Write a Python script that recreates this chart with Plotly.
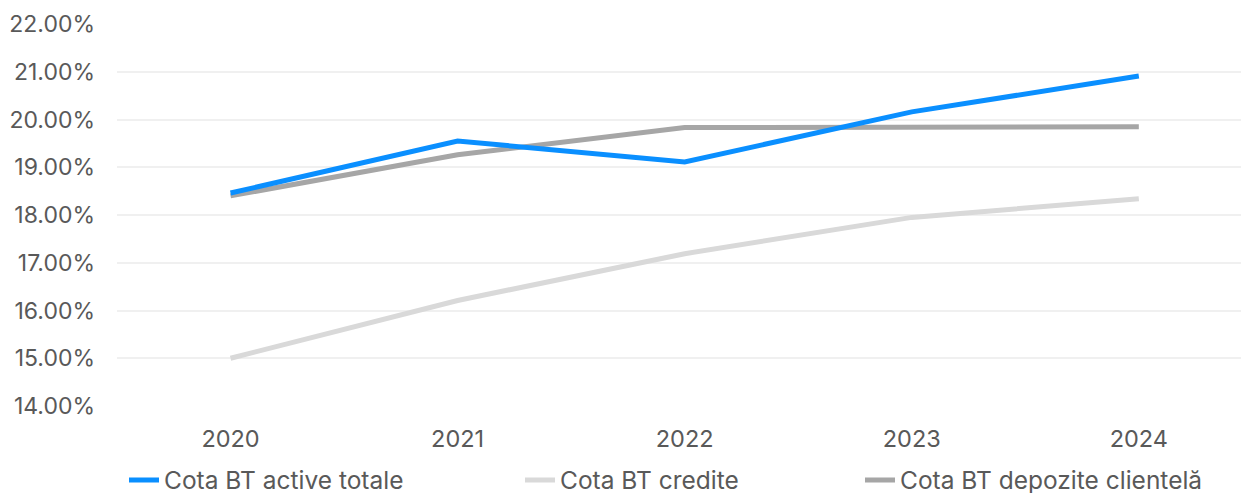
import plotly.graph_objects as go

years = ["2020", "2021", "2022", "2023", "2024"]
active_totale = [18.46, 19.55, 19.11, 20.16, 20.91]
credite = [15.00, 16.21, 17.19, 17.95, 18.34]
depozite = [18.40, 19.26, 19.83, 19.84, 19.85]

names = ["Cota BT active totale", "Cota BT credite", "Cota BT depozite clientelă"]
colors = ["#0A8FFF", "#D9D9D9", "#A6A6A6"]
series = [active_totale, credite, depozite]
legends = ["legend", "legend2", "legend3"]

FONT = "Inter"
fig = go.Figure()
order = [1, 2, 0]
for i in order:
    fig.add_trace(go.Scatter(
        x=years, y=series[i], mode="lines", name=names[i],
        line=dict(color=colors[i], width=5, shape="linear"),
        legend=legends[i],
    ))

W, H = 1241, 493
ml, mr, mt, mb = 117, 0, 24, 87
pw = W - ml - mr
ph = H - mt - mb

def px2paper(x):
    return (x - ml) / pw

def py2paper(y):
    return (H - mb - y) / ph

legend_common = dict(orientation="h", yanchor="middle", xanchor="left",
                     font=dict(family=FONT, size=24.5, color="#595959"),
                     bgcolor="rgba(0,0,0,0)", y=py2paper(480))

fig.update_layout(
    width=W, height=H,
    margin=dict(l=ml, r=mr, t=mt, b=mb, autoexpand=False),
    paper_bgcolor="white", plot_bgcolor="white",
    font=dict(family=FONT, size=23, color="#595959"),
    legend=dict(**legend_common, x=px2paper(124)),
    legend2=dict(**legend_common, x=px2paper(520)),
    legend3=dict(**legend_common, x=px2paper(860)),
    xaxis=dict(type="category", range=[-0.5, 4.45], showgrid=False, showline=False,
               ticks="", tickfont=dict(family=FONT, size=23.5, color="#595959"),
               ticklabelstandoff=16, automargin=False),
    yaxis=dict(range=[14, 22], dtick=1, tickformat=".2f", ticksuffix="%",
               showgrid=True, gridcolor="#F0F0F0", gridwidth=1.5,
               zeroline=False, showline=False, ticks="",
               tickfont=dict(family=FONT, size=23, color="#595959"),
               ticklabelstandoff=21, automargin=False),
    showlegend=True,
)

fig.write_html("out.html", config={"displayModeBar": False},
               post_script="document.body.style.margin='0';")
